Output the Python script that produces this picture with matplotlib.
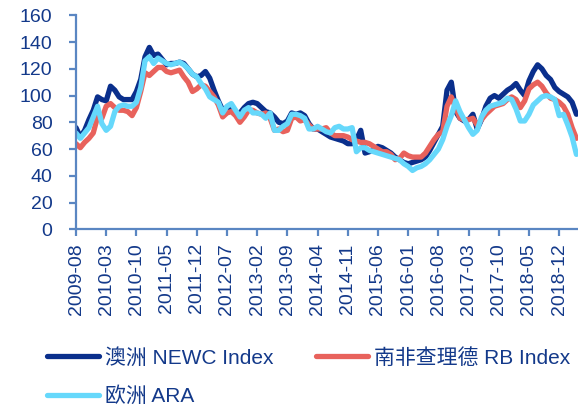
import matplotlib
matplotlib.use("Agg")
import matplotlib.pyplot as plt
import pandas as pd

plt.rcParams['font.family'] = ['Liberation Sans', 'Noto Sans CJK SC', 'DejaVu Sans']

months = pd.date_range("2009-08-01", periods=117, freq="MS").strftime("%Y-%m").tolist()

newc = [76, 69, 74, 82, 89, 99, 97, 96, 107, 104, 99, 97, 97, 97, 103, 112, 129, 136, 130, 131,
        127, 123, 124, 124, 125, 124, 120, 116, 114, 115, 118, 113, 104, 96, 89, 91, 91, 87, 87, 91,
        94, 95, 94, 91, 88, 87, 84, 80, 79, 81, 87, 86, 87, 85, 79, 75, 75, 73, 71, 69,
        68, 67, 66, 64, 64, 67, 74, 57, 58, 60, 62, 61, 59, 57, 54, 52, 50, 49, 50, 51,
        52, 54, 59, 65, 71, 77, 104, 110, 88, 83, 81, 82, 86, 75, 82, 92, 98, 100, 98, 101,
        104, 106, 109, 104, 100, 111, 118, 123, 120, 115, 112, 106, 103, 101, 99, 95, 86]

rb = [64, 61, 65, 68, 72, 84, 83, 92, 94, 91, 89, 89, 88, 85, 91, 103, 117, 115, 118, 121,
      121, 118, 117, 118, 119, 114, 110, 103, 105, 108, 107, 103, 99, 93, 84, 87, 88, 85, 80, 84,
      89, 89, 87, 86, 87, 83, 74, 75, 73, 74, 83, 84, 81, 82, 78, 75, 75, 75, 76, 72,
      70, 70, 70, 69, 67, 66, 65, 65, 64, 62, 60, 58, 58, 56, 52, 53, 57, 55, 54, 54,
      54, 57, 62, 67, 71, 73, 92, 99, 91, 83, 82, 82, 83, 78, 82, 86, 89, 92, 93, 94,
      97, 99, 97, 91, 96, 105, 108, 110, 107, 102, 98, 97, 95, 92, 86, 76, 68]

ara = [72, 68, 72, 76, 84, 92, 79, 74, 77, 88, 92, 93, 92, 92, 95, 106, 126, 129, 124, 128,
       126, 124, 123, 124, 125, 123, 120, 116, 114, 109, 105, 99, 97, 95, 87, 92, 94, 89, 84, 89,
       91, 87, 87, 86, 83, 87, 74, 74, 77, 79, 86, 86, 85, 83, 75, 75, 77, 75, 73, 72,
       76, 77, 75, 75, 76, 58, 61, 61, 59, 58, 57, 56, 55, 54, 53, 52, 49, 47, 44, 46,
       47, 49, 52, 56, 60, 67, 77, 85, 96, 88, 82, 76, 71, 74, 84, 89, 92, 93, 94, 95,
       98, 97, 90, 81, 81, 86, 93, 96, 99, 100, 99, 97, 85, 86, 78, 69, 56]

series_names = ["澳洲 NEWC Index", "南非查理德 RB Index", "欧洲 ARA"]
series_colors = ["#0a2f8c", "#e8625c", "#66d8fb"]
yticks = [0, 20, 40, 60, 80, 100, 120, 140, 160]

text_color = "#13398a"
spine_color = "#5a86c2"

fig = plt.figure(figsize=(5.78, 4.08), dpi=100)
ax = fig.add_axes([76 / 578, 1 - 229.3 / 408, 502 / 578, 214 / 408])

x = list(range(len(months)))
lines = []
for vals, name, col in zip([newc, rb, ara], series_names, series_colors):
    ln, = ax.plot(x, vals, color=col, lw=3.8, label=name,
                  solid_capstyle='round', solid_joinstyle='round')
    lines.append(ln)

ax.set_xlim(0, 502 / 4.314)
ax.set_ylim(0, 160)
ax.set_yticks(yticks)
tick_pos = list(range(0, len(months), 7))
ax.set_xticks(tick_pos)
ax.set_xticklabels([months[i] for i in tick_pos], rotation=90)

for s in ["top", "right"]:
    ax.spines[s].set_visible(False)
for s in ["left", "bottom"]:
    ax.spines[s].set_color(spine_color)
    ax.spines[s].set_linewidth(1.6)

ax.tick_params(axis='y', colors=spine_color, labelcolor=text_color, labelsize=14,
               length=5, width=1.6, pad=12)
ax.tick_params(axis='x', colors=spine_color, labelcolor=text_color, labelsize=14,
               length=5, width=1.6, pad=5)
ax.patch.set_visible(False)

# legend order: row 1 = NEWC, RB ; row 2 = ARA (matplotlib fills column-wise)
order = [0, 2, 1]
leg = fig.legend([lines[i] for i in order], [series_names[i] for i in order],
                 loc='center left', bbox_to_anchor=(47 / 578, 1 - 377 / 408),
                 ncol=2, frameon=False, fontsize=15, handlelength=2.5, handletextpad=0.3,
                 columnspacing=2.0, labelspacing=0.9, borderpad=0, borderaxespad=0)
for t in leg.get_texts():
    t.set_color(text_color)
for l in leg.get_lines():
    l.set_linewidth(3.8)

fig.savefig("out.png", dpi=100)
